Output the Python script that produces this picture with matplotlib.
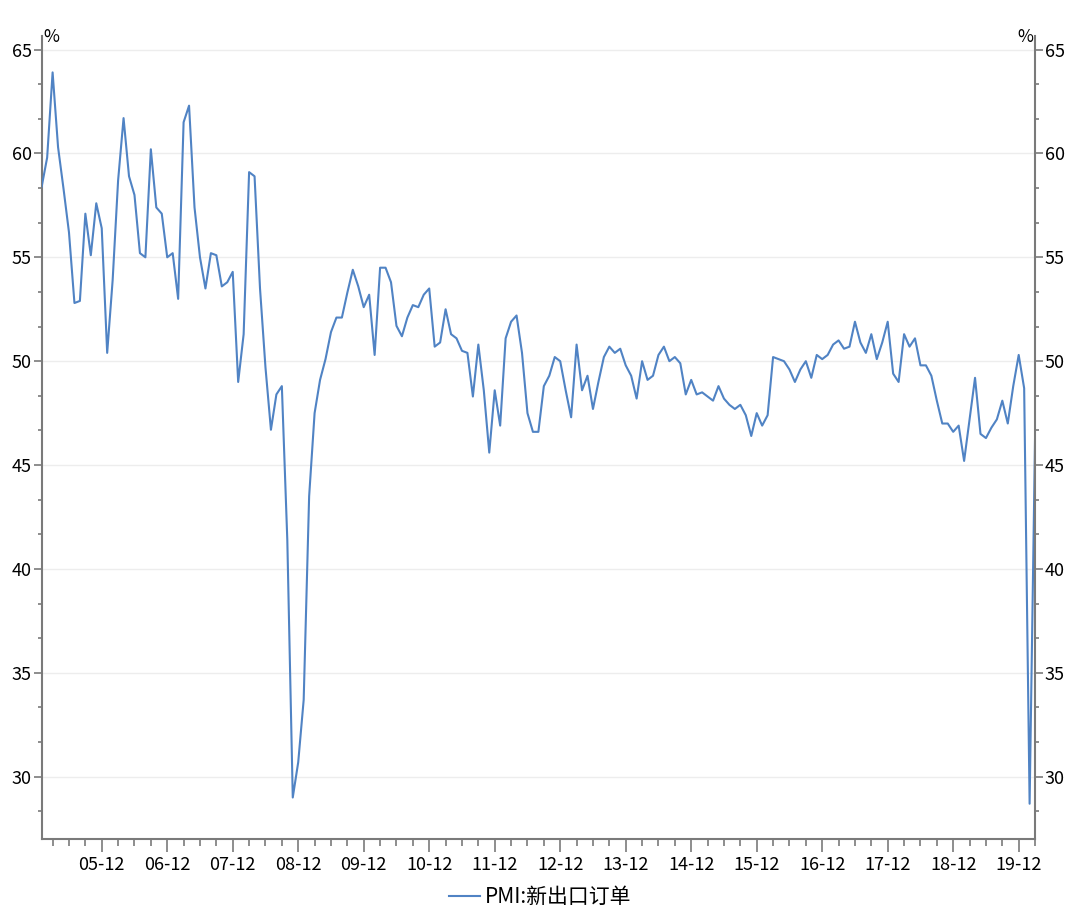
import matplotlib
matplotlib.use("Agg")
import matplotlib.pyplot as plt
import numpy as np
import pandas as pd

plt.rcParams['font.family'] = ['Noto Sans CJK SC', 'DejaVu Sans']

start_month = "2005-01"
values = [
    58.4, 59.8, 63.9, 60.3, 58.3, 56.2, 52.8, 52.9, 57.1, 55.1, 57.6, 56.4,   # 2005
    50.4, 53.9, 58.7, 61.7, 58.9, 58.0, 55.2, 55.0, 60.2, 57.4, 57.1, 55.0,   # 2006
    55.2, 53.0, 61.5, 62.3, 57.4, 55.0, 53.5, 55.2, 55.1, 53.6, 53.8, 54.3,   # 2007
    49.0, 51.3, 59.1, 58.9, 53.5, 49.7, 46.7, 48.4, 48.8, 41.4, 29.0, 30.7,   # 2008
    33.7, 43.5, 47.5, 49.1, 50.1, 51.4, 52.1, 52.1, 53.3, 54.4, 53.6, 52.6,   # 2009
    53.2, 50.3, 54.5, 54.5, 53.8, 51.7, 51.2, 52.1, 52.7, 52.6, 53.2, 53.5,   # 2010
    50.7, 50.9, 52.5, 51.3, 51.1, 50.5, 50.4, 48.3, 50.8, 48.6, 45.6, 48.6,   # 2011
    46.9, 51.1, 51.9, 52.2, 50.4, 47.5, 46.6, 46.6, 48.8, 49.3, 50.2, 50.0,   # 2012
    48.6, 47.3, 50.8, 48.6, 49.3, 47.7, 49.0, 50.2, 50.7, 50.4, 50.6, 49.8,   # 2013
    49.3, 48.2, 50.0, 49.1, 49.3, 50.3, 50.7, 50.0, 50.2, 49.9, 48.4, 49.1,   # 2014
    48.4, 48.5, 48.3, 48.1, 48.8, 48.2, 47.9, 47.7, 47.9, 47.4, 46.4, 47.5,   # 2015
    46.9, 47.4, 50.2, 50.1, 50.0, 49.6, 49.0, 49.6, 50.0, 49.2, 50.3, 50.1,   # 2016
    50.3, 50.8, 51.0, 50.6, 50.7, 51.9, 50.9, 50.4, 51.3, 50.1, 50.9, 51.9,   # 2017
    49.4, 49.0, 51.3, 50.7, 51.1, 49.8, 49.8, 49.3, 48.1, 47.0, 47.0, 46.6,   # 2018
    46.9, 45.2, 47.2, 49.2, 46.5, 46.3, 46.8, 47.2, 48.1, 47.0, 48.8, 50.3,   # 2019
    48.7, 28.7, 46.4,                                                         # 2020
]
series_name = "PMI:新出口订单"
y_ticks = [30, 35, 40, 45, 50, 55, 60, 65]

months = pd.period_range(start=start_month, periods=len(values), freq="M")
pos = np.arange(len(values))

fig = plt.figure(figsize=(10.8, 9.17), dpi=100)
ax = fig.add_axes([0.0386, 0.085, 0.9198, 0.8757])
ax2 = ax.twinx()

line_color = "#5083c4"
spine_color = "#7a7a7a"

ax.plot(pos, values, color=line_color, lw=1.5, zorder=3)

minor_y = np.arange(28 + 1/3, 65.01, 5/3)
for a in (ax, ax2):
    a.set_yticks(y_ticks)
    a.set_yticks(minor_y, minor=True)
    a.set_ylim(27.0, 65.65)

# x ticks: major at December, minor each quarter
dec_pos = [p for p, m in zip(pos, months) if m.month == 12]
dec_lab = [m.strftime("%y-%m") for m in months if m.month == 12]
q_pos = [p for p, m in zip(pos, months) if m.month in (3, 6, 9)]
ax.set_xticks(dec_pos)
ax.set_xticklabels(dec_lab)
ax.set_xticks(q_pos, minor=True)
ax.set_xlim(pos[0], pos[-1])

ax.grid(axis="y", which="major", color="#ededed", lw=1.0, zorder=0)
ax.set_axisbelow(True)

for a in (ax, ax2):
    for s in a.spines.values():
        s.set_visible(False)
ax.spines["left"].set_visible(True)
ax.spines["bottom"].set_visible(True)
ax2.spines["right"].set_visible(True)
for s in (ax.spines["left"], ax.spines["bottom"], ax2.spines["right"]):
    s.set_color(spine_color)
    s.set_linewidth(1.5)

fs = 13
ax.tick_params(axis="y", which="major", direction="out", length=6, width=1.2,
               color=spine_color, labelsize=fs, pad=1)
ax.tick_params(axis="y", which="minor", direction="out", length=3, width=1.2,
               color=spine_color)
ax2.tick_params(axis="y", which="major", direction="out", length=6, width=1.2,
                color=spine_color, labelsize=fs, pad=1)
ax2.tick_params(axis="y", which="minor", direction="out", length=3, width=1.2,
                color=spine_color)
ax.tick_params(axis="x", which="major", direction="out", length=9, width=1.2,
               color=spine_color, labelsize=fs, pad=3)
ax.tick_params(axis="x", which="minor", direction="out", length=5, width=1.2,
               color=spine_color)

fig.text(51 / 1080, 1 - 37 / 917, "%", ha="center", va="center", fontsize=12.5)
fig.text(1025 / 1080, 1 - 37 / 917, "%", ha="center", va="center", fontsize=12.5)

handle = plt.Line2D([], [], color=line_color, lw=1.5)
fig.legend([handle], [series_name], loc="center", bbox_to_anchor=(0.5, 1 - 897 / 917),
           frameon=False, fontsize=15, handlelength=1.5, handletextpad=0.2)

fig.savefig("out.png", dpi=100, facecolor="white")
